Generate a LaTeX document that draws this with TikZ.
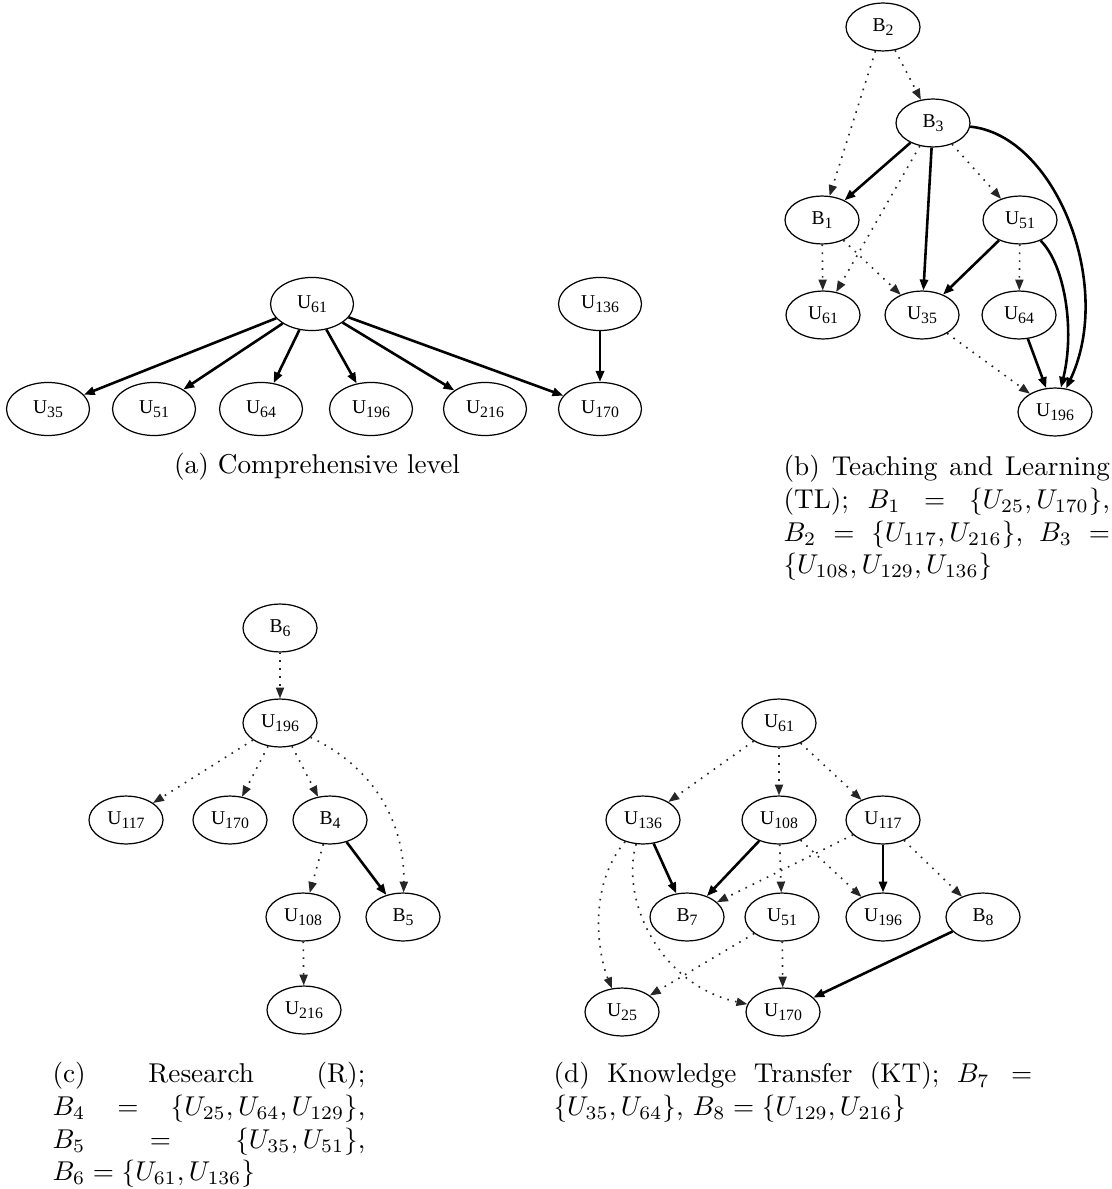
\documentclass[tikz,border=0pt]{standalone}
\usepackage{fontspec}
\usetikzlibrary{shapes.geometric,arrows.meta}
\newfontfamily\tms{Liberation Serif}
\newcommand\nl[2]{{\tms\fontsize{7.2}{8}\selectfont #1\raisebox{-1.3pt}{\fontsize{5.8}{6}\selectfont #2}}}
\begin{document}
\begin{tikzpicture}[x=0.3676pt,y=-0.3676pt,
  nd/.style={ellipse,draw,line width=0.45pt,minimum width=27.2pt,minimum height=17.6pt,inner sep=0pt},
  ndA/.style={nd,minimum width=30.5pt,minimum height=19.5pt},
  se/.style={line width=0.95pt,-{Triangle[length=4pt,width=3pt]}},
  de/.style={line width=0.6pt,black!85,dash pattern=on 0.6pt off 2.3pt,-{Triangle[length=4pt,width=3pt]}},
  captxt/.style={inner sep=0pt,anchor=north west,align=justify,font=\fontsize{10}{12}\selectfont}
]
\useasboundingbox (0,0) rectangle (1111,1189);
% ---------- (a)
\node[ndA] (aU61) at (312,304) {\nl{U}{61}};
\node[ndA] (aU136) at (600,304) {\nl{U}{136}};
\node[ndA] (aU35) at (48,409) {\nl{U}{35}};
\node[ndA] (aU51) at (154,409) {\nl{U}{51}};
\node[ndA] (aU64) at (261,409) {\nl{U}{64}};
\node[ndA] (aU196) at (371,409) {\nl{U}{196}};
\node[ndA] (aU216) at (485,409) {\nl{U}{216}};
\node[ndA] (aU170) at (600,409) {\nl{U}{170}};
\foreach \t in {aU35,aU51,aU64,aU196,aU216,aU170} \draw[se] (aU61) -- (\t);
\draw[se] (aU136) -- (aU170);
\node[font=\fontsize{10}{12}\selectfont,inner sep=0pt] (capa) at (317,467) {(a) Comprehensive level};
% ---------- (b)
\node[nd] (bB2) at (883,27) {\nl{B}{2}};
\node[nd] (bB3) at (933,123) {\nl{B}{3}};
\node[nd] (bB1) at (822,220) {\nl{B}{1}};
\node[nd] (bU51) at (1020,220) {\nl{U}{51}};
\node[nd] (bU61) at (823,315) {\nl{U}{61}};
\node[nd] (bU35) at (922,315) {\nl{U}{35}};
\node[nd] (bU64) at (1019,315) {\nl{U}{64}};
\node[nd] (bU196) at (1055,412) {\nl{U}{196}};
\draw[de] (bB2) -- (bB1);
\draw[de] (bB2) -- (bB3);
\draw[se] (bB3) -- (bB1);
\draw[de] (bB3) -- (bU61);
\draw[se] (bB3) -- (bU35);
\draw[de] (bB3) -- (bU51);
\draw[se] (bB3) .. controls (1055,135) and (1115,285) .. (bU196);
\draw[de] (bB1) -- (bU61);
\draw[de] (bB1) -- (bU35);
\draw[se] (bU51) -- (bU35);
\draw[de] (bU51) -- (bU64);
\draw[se] (bU51) .. controls (1065,265) and (1075,330) .. (bU196);
\draw[se] (bU64) -- (bU196);
\draw[de] (bU35) -- (bU196);
\node[captxt,text width=120pt] (capb) at (783,455) {(b) Teaching and Learning\linebreak (TL); $B_1 = \{U_{25},U_{170}\}$,\linebreak $B_2 = \{U_{117},U_{216}\}$, $B_3 =$\linebreak $\{U_{108},U_{129},U_{136}\}$};
% ---------- (c)
\node[nd] (cB6) at (280,628) {\nl{B}{6}};
\node[nd] (cU196) at (280,723) {\nl{U}{196}};
\node[nd] (cU117) at (126,820) {\nl{U}{117}};
\node[nd] (cU170) at (230,820) {\nl{U}{170}};
\node[nd] (cB4) at (330,820) {\nl{B}{4}};
\node[nd] (cU108) at (303,917) {\nl{U}{108}};
\node[nd] (cB5) at (403,917) {\nl{B}{5}};
\node[nd] (cU216) at (304,1010) {\nl{U}{216}};
\draw[de] (cB6) -- (cU196);
\draw[de] (cU196) -- (cU117);
\draw[de] (cU196) -- (cU170);
\draw[de] (cU196) -- (cB4);
\draw[de] (cU196) .. controls (380,770) and (405,830) .. (cB5);
\draw[de] (cB4) -- (cU108);
\draw[se] (cB4) -- (cB5);
\draw[de] (cU108) -- (cU216);
\node[captxt,text width=115pt] (capc) at (52,1062) {(c) Research (R);\linebreak $B_4 = \{U_{25},U_{64},U_{129}\}$,\linebreak $B_5 = \{U_{35},U_{51}\}$,\linebreak $B_6 = \{U_{61},U_{136}\}$};
% ---------- (d)
\node[nd] (dU61) at (779,723) {\nl{U}{61}};
\node[nd] (dU136) at (643,820) {\nl{U}{136}};
\node[nd] (dU108) at (779,820) {\nl{U}{108}};
\node[nd] (dU117) at (883,820) {\nl{U}{117}};
\node[nd] (dB7) at (687,917) {\nl{B}{7}};
\node[nd] (dU51) at (782,917) {\nl{U}{51}};
\node[nd] (dU196) at (883,917) {\nl{U}{196}};
\node[nd] (dB8) at (983,917) {\nl{B}{8}};
\node[nd] (dU25) at (622,1012) {\nl{U}{25}};
\node[nd] (dU170) at (783,1012) {\nl{U}{170}};
\draw[de] (dU61) -- (dU136);
\draw[de] (dU61) -- (dU108);
\draw[de] (dU61) -- (dU117);
\draw[se] (dU136) -- (dB7);
\draw[se] (dU108) -- (dB7);
\draw[de] (dU117) -- (dB7);
\draw[de] (dU108) -- (dU51);
\draw[de] (dU108) -- (dU196);
\draw[se] (dU117) -- (dU196);
\draw[de] (dU117) -- (dB8);
\draw[de] (dU136) .. controls (585,890) and (600,960) .. (dU25);
\draw[de] (dU136) .. controls (620,900) and (660,985) .. (dU170);
\draw[de] (dU51) -- (dU25);
\draw[de] (dU51) -- (dU170);
\draw[se] (dB8) -- (dU170);
\node[captxt,text width=176pt] (capd) at (553,1062) {(d) Knowledge Transfer (KT); $B_7 =$\linebreak $\{U_{35},U_{64}\}$, $B_8 = \{U_{129},U_{216}\}$};
\end{tikzpicture}
\end{document}
